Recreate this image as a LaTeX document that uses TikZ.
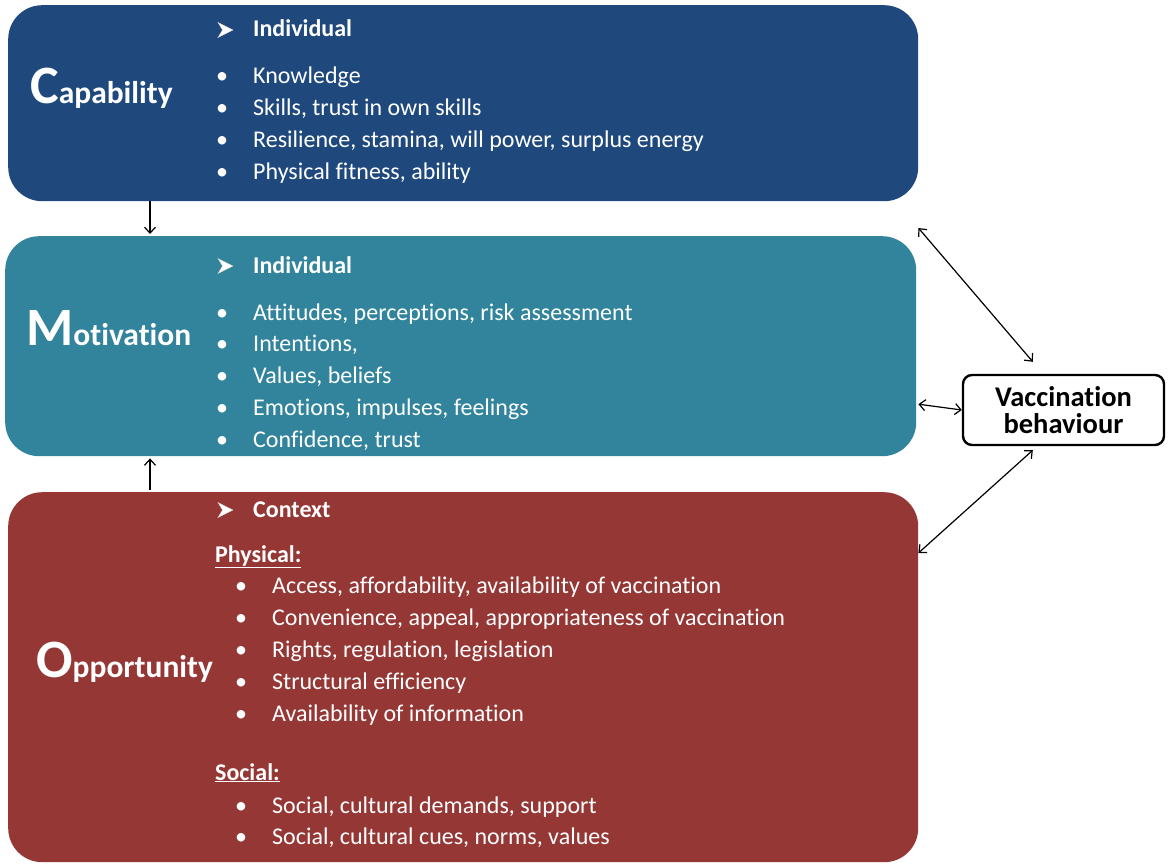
\documentclass[tikz,border=0pt]{standalone}
\usepackage{fontspec}
\setmainfont{Carlito}[Ligatures=NoCommon]
\usetikzlibrary{arrows.meta,calc}
\definecolor{capblue}{RGB}{31,73,125}
\definecolor{motteal}{RGB}{49,132,155}
\definecolor{oppred}{RGB}{149,55,53}
\begin{document}
\begin{tikzpicture}[x=1pt,y=-1pt,
  panel/.style={anchor=north west,rounded corners=34pt,inner sep=0pt},
  body/.style={anchor=base west,text=white,inner sep=0pt,font=\fontsize{24}{28}\selectfont},
  head/.style={body,font=\fontsize{24}{28}\selectfont\bfseries},
  big/.style={anchor=base west,text=white,inner sep=0pt,font=\fontsize{31.5}{36}\selectfont\bfseries},
  conn/.style={line width=1.2pt,{Straight Barb[length=6pt,width=11pt]}-{Straight Barb[length=6pt,width=11pt]}},
  one/.style={line width=1.2pt,-{Straight Barb[length=6pt,width=11pt]}},
  arrowbullet/.style={fill=white,draw=white!80!black,line width=0.4pt,line join=miter}
]
\useasboundingbox (0,0) rectangle (1170,867);
% panels
\node[panel,fill=capblue,minimum width=910pt,minimum height=196pt] (cap) at (8,5) {};
\node[panel,fill=motteal,minimum width=911pt,minimum height=220pt] (mot) at (5,236) {};
\node[panel,fill=oppred,minimum width=910pt,minimum height=370pt] (opp) at (8,492) {};
\node[draw=black,line width=2.4pt,rounded corners=9pt,fill=white,minimum width=201pt,minimum height=70pt,inner sep=0pt,
  align=center,font=\fontsize{28.5}{26.5}\selectfont\bfseries] (vb) at (1063.5,410) {Vaccination\\behaviour};

% titles
\node[big] (capt) at (30,103) {{\fontsize{54}{54}\selectfont C}apability};
\node[big] (mott) at (26,345) {{\fontsize{54}{54}\selectfont M}otivation};
\node[big] (oppt) at (36,677) {{\fontsize{54}{54}\selectfont O}pportunity};

% arrow bullets
\foreach \yy in {30,266,510}{
  \fill[arrowbullet] (218,\yy-7.5) -- (233,\yy) -- (218,\yy+7.5) -- (222.5,\yy) -- cycle;
}

% capability text
\node[head] (c0) at (253,37) {Individual};
\foreach \t [count=\i] in {Knowledge,{Skills, trust in own skills},{Resilience,  stamina, will power, surplus energy},{Physical fitness, ability}}{
  \node[body] (cb\i) at (216,{75+32*(\i-1)+8}) {•};
  \node[body] (c\i) at (253,{75+32*(\i-1)+8}) {\t};
}
% motivation text
\node[head] (m0) at (253,273) {Individual};
\foreach \t [count=\i] in {{Attitudes, perceptions, risk assessment},{Intentions,},{Values, beliefs},{Emotions, impulses, feelings},{Confidence, trust}}{
  \node[body] (mb\i) at (216,{312+31.8*(\i-1)+8}) {•};
  \node[body] (m\i) at (253,{312+31.8*(\i-1)+8}) {\t};
}
% opportunity text
\node[head] (o0) at (253,517) {Context};
\node[head] (ophys) at (215,562) {\underline{Physical:}};
\foreach \t [count=\i] in {{Access, affordability, availability of vaccination},{Convenience, appeal,  appropriateness of vaccination},{Rights, regulation,  legislation},{Structural efficiency},{Availability of information}}{
  \node[body] (ob\i) at (235,{585+32*(\i-1)+8}) {•};
  \node[body] (o\i) at (272,{585+32*(\i-1)+8}) {\t};
}
\node[head] (osoc) at (215,780) {\underline{Social:}};
\foreach \t [count=\i] in {{Social, cultural demands, support},{Social, cultural cues, norms, values}}{
  \node[body] (os\i) at (235,{805+31*(\i-1)+8}) {•};
  \node[body] (ot\i) at (272,{805+31*(\i-1)+8}) {\t};
}

% connectors
\draw[one] ($(cap.south west)+(142,0)$) -- ($(mot.north west)+(145,-2)$);
\draw[one] ($(opp.north west)+(142,-2)$) -- ($(mot.south west)+(145,2)$);
\draw[conn] ($(mot.north east)+(2,-8)$) -- ($(vb.north west)+(71,-12)$);
\draw[conn] ($(mot.east)+(2,58)$) -- (vb.west);
\draw[conn] ($(opp.north east)+(0,61)$) -- ($(vb.south west)+(71,4)$);
\end{tikzpicture}
\end{document}
